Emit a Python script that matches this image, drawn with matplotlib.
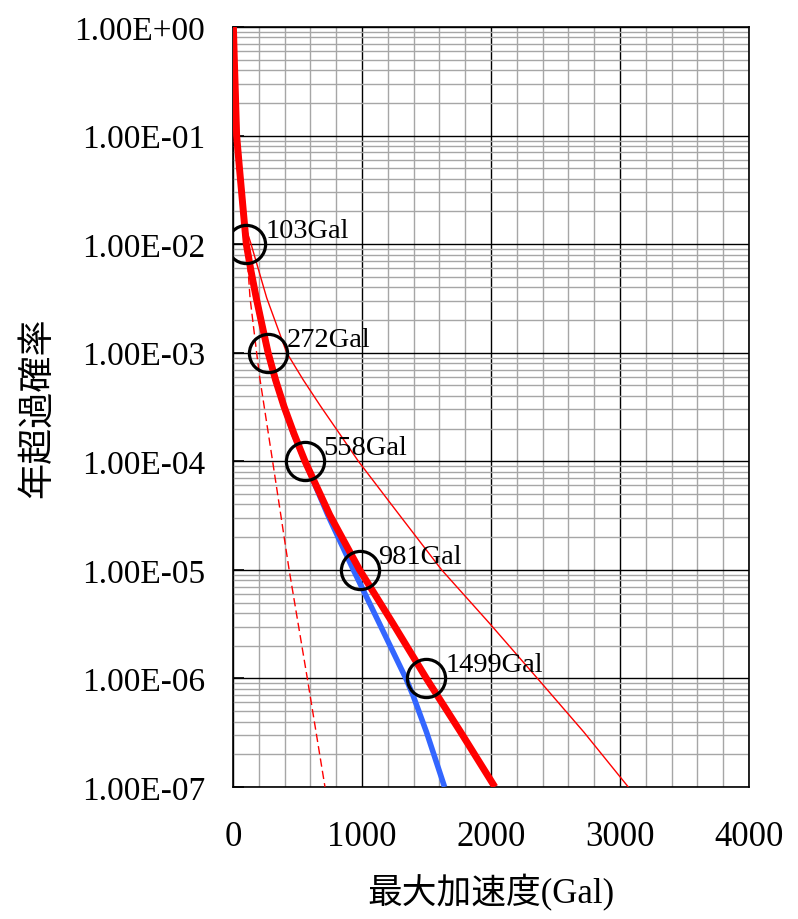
import matplotlib
matplotlib.use('Agg')
import matplotlib.pyplot as plt
from matplotlib.ticker import FixedLocator, LogLocator, MultipleLocator, NullFormatter

plt.rcParams['font.family'] = ['Liberation Serif', 'Noto Sans CJK JP']

# total hazard curve (thick red)
total_gal = [3, 10, 16, 28, 50, 80, 103, 140, 180, 225, 272, 330, 395, 472,
             558, 750, 981, 1240, 1499, 1765, 2030]
total_prob = [1.0, 0.5, 0.3, 0.1, 5e-2, 2e-2, 1e-2, 5.6e-3, 3.2e-3, 1.8e-3, 1e-3, 5.6e-4, 3.2e-4, 1.8e-4,
              1e-4, 3.2e-5, 1e-5, 3.2e-6, 1e-6, 3.2e-7, 1e-7]

# blue curve (follows the total curve down to about 1e-4)
blue_gal = [3, 10, 16, 28, 50, 80, 103, 140, 180, 225, 272, 330, 395, 468,
            558, 735, 933, 1135, 1340, 1395, 1500, 1640]
blue_prob = [1.0, 0.5, 0.3, 0.1, 5e-2, 2e-2, 1e-2, 5.6e-3, 3.2e-3, 1.8e-3, 1e-3, 5.6e-4, 3.2e-4, 1.8e-4,
             1e-4, 3.2e-5, 1e-5, 3.2e-6, 1e-6, 7e-7, 3.2e-7, 1e-7]

# thin red curve
thin_gal = [3, 10, 16, 28, 50, 85, 140, 261, 416, 545, 680, 825, 972,
            1290, 1617, 1990, 2360, 2720, 3064]
thin_prob = [1.0, 0.5, 0.3, 0.1, 5e-2, 1.6e-2, 1e-2, 3.2e-3, 1e-3, 5.6e-4, 3.2e-4, 1.8e-4, 1e-4,
             3.2e-5, 1e-5, 3.2e-6, 1e-6, 3.2e-7, 1e-7]

# dashed red curve
dash_gal = [3, 10, 16, 28, 50, 80, 95, 114, 132, 183, 207, 307, 435, 576, 713]
dash_prob = [1.0, 0.5, 0.3, 0.1, 5e-2, 2e-2, 1e-2, 6.5e-3, 3.2e-3, 1e-3, 5.9e-4, 1e-4, 1e-5, 1e-6, 1e-7]

# marked points
mark_gal = [103, 272, 558, 981, 1499]
mark_prob = [1e-2, 1e-3, 1e-4, 1e-5, 1e-6]
mark_labels = ['103Gal', '272Gal', '558Gal', '981Gal', '1499Gal']

ytick_vals = [1e0, 1e-1, 1e-2, 1e-3, 1e-4, 1e-5, 1e-6, 1e-7]
ytick_labels = ['1.00E+00', '1.00E-01', '1.00E-02', '1.00E-03',
                '1.00E-04', '1.00E-05', '1.00E-06', '1.00E-07']
xtick_vals = [0, 1000, 2000, 3000, 4000]

fig = plt.figure(figsize=(7.98, 9.2), dpi=100)
ax = fig.add_axes([0.292, 0.1435, 0.6466, 0.8261])

ax.set_yscale('log')
ax.set_xlim(0, 4000)
ax.set_ylim(1e-7, 1e0)

ax.plot(dash_gal, dash_prob, color='red', lw=1.0, dashes=(6, 3), zorder=3)
ax.plot(thin_gal, thin_prob, color='red', lw=1.0, zorder=3)
ax.plot(blue_gal, blue_prob, color='#3366ff', lw=4.0, zorder=4, solid_capstyle='butt')
ax.plot(total_gal, total_prob, color='red', lw=5.0, zorder=5, solid_capstyle='butt')

ax.plot(mark_gal, mark_prob, 'o', ms=27.5, mfc='none', mec='black', mew=2.3, zorder=6)
for g, p, lab in zip(mark_gal, mark_prob, mark_labels):
    ax.annotate(lab, (g, p), xytext=(13.5, 5), textcoords='offset points',
                ha='left', va='baseline', fontsize=20.5, zorder=7)

ax.xaxis.set_major_locator(FixedLocator(xtick_vals))
ax.xaxis.set_minor_locator(MultipleLocator(200))
ax.yaxis.set_major_locator(FixedLocator(ytick_vals))
ax.yaxis.set_minor_locator(LogLocator(base=10, subs=range(2, 10), numticks=20))
ax.yaxis.set_minor_formatter(NullFormatter())
ax.set_yticklabels(ytick_labels)

ax.grid(which='minor', color='#a6a6a6', lw=1.0)
ax.grid(which='major', color='black', lw=1.0)
ax.set_axisbelow(True)

ax.tick_params(axis='y', which='major', direction='in', length=8, width=1.2,
               labelsize=24, pad=20)
ax.tick_params(axis='y', which='minor', length=0)
ax.tick_params(axis='x', which='both', length=0, labelsize=25, pad=24)

for s in ax.spines.values():
    s.set_color('black')
    s.set_linewidth(1.2)

ax.set_xlabel('最大加速度(Gal)', fontsize=25, labelpad=14)
ax.set_ylabel('年超過確率', fontsize=26, labelpad=14)

fig.savefig('out.png', dpi=100)
